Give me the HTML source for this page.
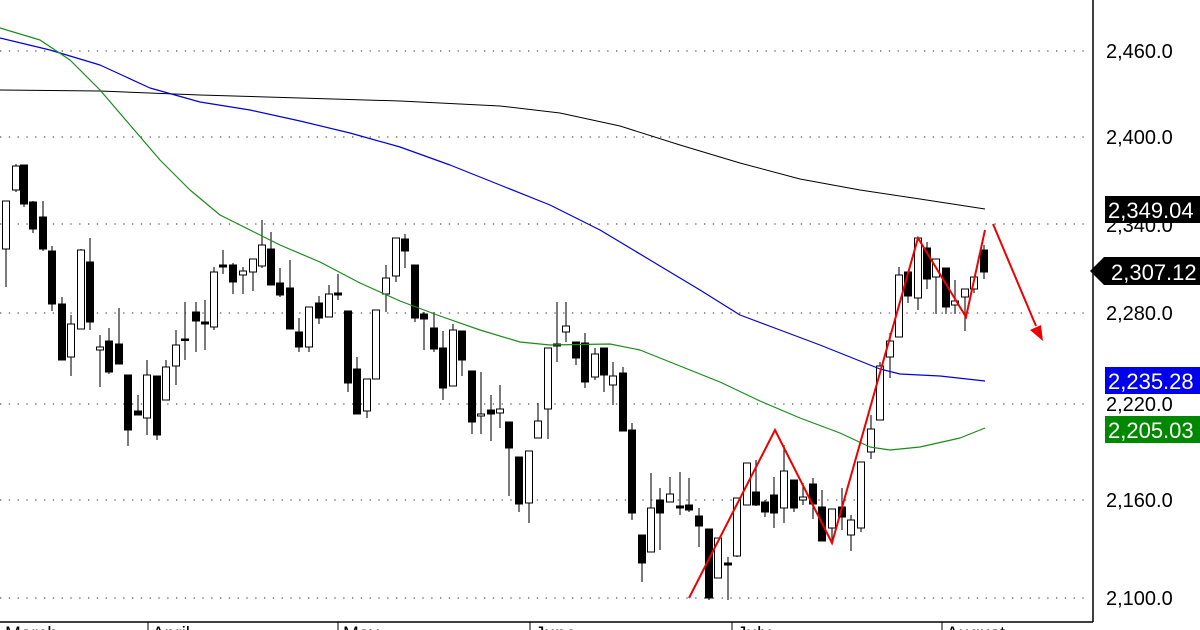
<!DOCTYPE html>
<html><head><meta charset="utf-8"><style>
html,body{margin:0;padding:0;background:#fff;}
svg{display:block;font-family:"Liberation Sans",Arial,sans-serif;}
</style></head><body>
<svg id="s" width="1200" height="630" viewBox="0 0 1200 630" xmlns="http://www.w3.org/2000/svg">
<g stroke="#555" stroke-width="1.3" stroke-dasharray="1.3,7.5">
<line x1="0" y1="51" x2="1088" y2="51"/><line x1="0" y1="137" x2="1088" y2="137"/><line x1="0" y1="224" x2="1088" y2="224"/><line x1="0" y1="313" x2="1088" y2="313"/><line x1="0" y1="404" x2="1088" y2="404"/><line x1="0" y1="500" x2="1088" y2="500"/><line x1="0" y1="598" x2="1088" y2="598"/>
</g>
<g id="c"></g>
<polyline fill="none" stroke="#000" stroke-width="1" stroke-linejoin="round" points="0,90 100,91 200,95 300,98 400,101 500,106 560,113 620,126 680,145 740,163 800,179 860,190 920,199 985,209"/>
<polyline fill="none" stroke="#0000dd" stroke-width="1.2" stroke-linejoin="round" points="0,38 50,50 100,65 150,88 200,102 250,110 300,121 350,133 400,147 450,165 500,185 550,205 600,230 650,260 700,290 740,315 780,330 820,345 860,361 880,369 900,374 940,376 985,381"/>
<polyline fill="none" stroke="#1a8c1a" stroke-width="1.2" stroke-linejoin="round" points="0,28 40,40 70,60 100,90 130,125 160,160 190,190 220,215 250,230 280,245 320,262 360,283 400,301 440,316 480,330 520,342 550,345 610,344 640,350 680,366 720,382 760,401 800,418 840,433 870,447 890,450 920,447 960,438 985,428"/>
<polyline fill="none" stroke="#ee0000" stroke-width="2" points="689,598 775,430 832,543 918,238 966,317 985,230"/>
<line x1="993" y1="224" x2="1036" y2="326" stroke="#ee0000" stroke-width="2"/>
<polygon points="1043,341 1030,330 1041,325" fill="#ee0000"/>
<line x1="1093" y1="0" x2="1093" y2="622" stroke="#000" stroke-width="1.5"/>
<line x1="0" y1="622" x2="1093" y2="622" stroke="#000" stroke-width="1.5"/>
<g stroke="#000"><line x1="148" y1="622" x2="148" y2="630"/><line x1="338" y1="622" x2="338" y2="630"/><line x1="530" y1="622" x2="530" y2="630"/><line x1="732" y1="622" x2="732" y2="630"/><line x1="942" y1="622" x2="942" y2="630"/></g>
<g font-size="19" fill="#000"><text x="5" y="640">March</text><text x="152" y="640">April</text><text x="343" y="640">May</text><text x="535" y="640">June</text><text x="737" y="640">July</text><text x="946" y="640">August</text></g>
<g font-size="20" fill="#000">
<text x="1106" y="58">2,460.0</text><text x="1106" y="144">2,400.0</text><text x="1106" y="232">2,340.0</text><text x="1106" y="320">2,280.0</text><text x="1106" y="411">2,220.0</text><text x="1106" y="507">2,160.0</text><text x="1106" y="605">2,100.0</text>
</g>
<rect x="1105" y="196" width="95" height="27" fill="#000"/><text x="1108" y="218" font-size="22" fill="#fff">2,349.04</text>
<polygon points="1090,271 1104,257 1200,257 1200,285 1104,285" fill="#000"/><text x="1111" y="280" font-size="22" fill="#fff">2,307.12</text>
<rect x="1105" y="367" width="95" height="27" fill="#0000ee"/><text x="1108" y="389" font-size="22" fill="#fff">2,235.28</text>
<rect x="1105" y="416" width="95" height="27" fill="#008800"/><text x="1108" y="438" font-size="22" fill="#fff">2,205.03</text>
</svg>
<script>
var d=[[6,201,249,201,287,0],[16,166,190,164,192,0],[24,165,204,165,207,1],[33,202,229,201,233,1],[43,217,249,201,251,1],[52,251,304,246,311,1],[62,304,360,297,360,1],[71,324,357,315,376,0],[81,250,329,249,329,0],[90,262,322,238,330,1],[100,347,350,335,387,0],[109,341,372,328,374,1],[119,344,364,308,364,1],[128,375,430,375,446,1],[138,411,415,395,415,1],[147,375,418,360,435,0],[157,376,435,376,440,1],[166,367,400,360,400,0],[176,345,366,330,385,0],[185,339,340,302,360,1],[196,312,321,302,352,1],[205,322,324,300,350,1],[214,272,327,267,330,0],[223,265,267,250,274,1],[233,265,282,263,294,1],[243,271,275,267,294,0],[253,259,272,259,291,0],[262,245,266,220,268,0],[271,249,285,232,285,1],[280,283,295,268,297,1],[290,288,329,260,329,1],[299,332,347,318,352,1],[309,307,347,307,352,0],[319,303,318,296,324,1],[329,294,317,285,317,0],[338,293,295,274,300,1],[348,311,383,311,392,1],[357,369,414,357,414,1],[367,379,411,379,418,0],[376,310,379,310,379,0],[386,278,294,265,312,0],[396,238,276,238,282,0],[405,239,251,234,268,1],[415,265,318,265,322,1],[424,314,319,312,350,1],[434,328,349,312,352,1],[443,348,388,331,400,1],[453,330,386,324,386,0],[462,331,360,331,376,1],[472,371,422,371,434,1],[481,414,416,372,434,0],[491,410,414,395,441,1],[500,409,413,385,428,0],[509,422,448,422,496,1],[519,457,504,457,512,1],[529,451,503,451,523,0],[538,421,438,403,438,0],[548,348,409,348,439,0],[557,344,346,302,362,1],[566,326,332,302,342,0],[576,342,358,342,365,1],[585,343,382,333,388,1],[595,354,377,348,380,0],[604,348,375,348,392,1],[613,376,385,362,405,0],[623,373,431,367,431,1],[632,430,513,423,520,1],[642,535,563,535,582,1],[651,508,552,473,552,0],[660,500,513,488,550,1],[670,494,502,477,502,0],[680,506,508,472,515,1],[689,505,510,478,512,1],[699,516,526,508,547,1],[709,529,598,529,600,1],[718,538,578,538,578,0],[728,563,565,557,600,1],[737,498,556,498,557,0],[747,463,505,463,505,0],[756,492,505,460,506,1],[765,502,512,500,517,1],[774,495,513,477,528,1],[784,471,508,445,523,0],[794,480,508,480,512,1],[803,497,500,483,505,0],[813,484,504,478,519,1],[822,507,541,490,541,1],[832,509,528,509,540,0],[842,507,517,488,530,1],[851,520,535,515,551,0],[861,462,528,462,532,0],[871,429,452,415,459,0],[880,366,420,362,420,0],[890,341,357,333,378,0],[899,275,337,267,337,0],[908,272,296,272,303,1],[918,238,298,238,310,0],[927,248,279,242,289,1],[936,259,277,259,314,0],[946,268,307,268,314,1],[955,301,305,280,314,0],[965,289,297,289,331,0],[974,277,289,277,293,0],[984,250,272,245,279,1]];
var s='';d.forEach(function(c){var x=c[0],t=Math.min(c[1],c[2]),b=Math.max(c[1],c[2]),h=Math.max(b-t,1.5);
s+='<line x1="'+x+'" y1="'+c[3]+'" x2="'+x+'" y2="'+c[4]+'" stroke="#222" stroke-width="1.2"/>';
s+='<rect x="'+(x-3.5)+'" y="'+t+'" width="7" height="'+h+'" fill="'+(c[5]?'#000':'#fff')+'" stroke="#000" stroke-width="1"/>';});
document.getElementById('c').innerHTML=s;
</script>
</body></html>
